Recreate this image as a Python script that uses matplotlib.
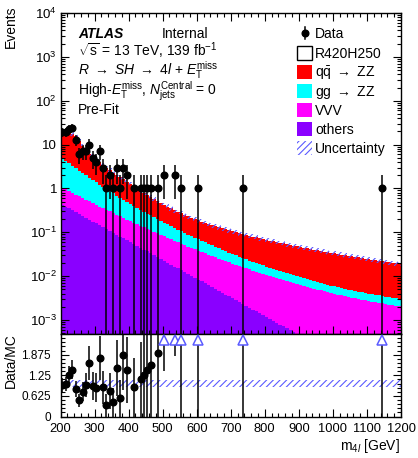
import numpy as np
import matplotlib
matplotlib.use('Agg')
import matplotlib.pyplot as plt
from matplotlib.patches import Rectangle
from matplotlib.lines import Line2D
from matplotlib.ticker import FixedLocator, FixedFormatter, MultipleLocator, LogLocator, FuncFormatter, NullFormatter

plt.rcParams['font.family'] = ['Liberation Sans', 'DejaVu Sans']
plt.rcParams['mathtext.fontset'] = 'custom'
plt.rcParams['mathtext.rm'] = 'Liberation Sans'
plt.rcParams['mathtext.it'] = 'Liberation Sans:italic'
plt.rcParams['mathtext.bf'] = 'Liberation Sans:bold'
plt.rcParams['hatch.linewidth'] = 0.8

# ---------------- data ----------------
bin_edges = np.arange(200, 1201, 10)

data = [19, 19, 23, 24, 13, 6, 7, 7, 10, 5,
        4, 7, 3, 1, 2, 1, 3, 1, 3, 2,
        0, 1, 0, 1, 1, 1, 1, 0, 1, 0,
        2, 0, 0, 2, 0, 1, 0, 0, 0, 0,
        1, 0, 0, 0, 0, 0, 0, 0, 0, 0,
        0, 0, 0, 1, 0, 0, 0, 0, 0, 0,
        0, 0, 0, 0, 0, 0, 0, 0, 0, 0,
        0, 0, 0, 0, 0, 0, 0, 0, 0, 0,
        0, 0, 0, 0, 0, 0, 0, 0, 0, 0,
        0, 0, 0, 0, 1, 0, 0, 0, 0, 0]

qqZZ = [15.08, 15.00, 14.53, 13.70, 12.60, 9.645, 7.049, 5.412, 4.443, 3.844,
        3.222, 2.727, 2.312, 1.981, 1.736, 1.529, 1.340, 1.182, 1.046, 0.9226,
        0.8127, 0.7174, 0.6371, 0.5624, 0.5039, 0.4472, 0.3974, 0.3549, 0.3202, 0.2883,
        0.2596, 0.2353, 0.2145, 0.1953, 0.1800, 0.1657, 0.1535, 0.1435, 0.1337, 0.1263,
        0.1191, 0.1125, 0.1065, 0.1009, 0.0960, 0.0917, 0.0870, 0.0831, 0.0801, 0.0766,
        0.0737, 0.0707, 0.0680, 0.0655, 0.0631, 0.0607, 0.0586, 0.0566, 0.0546, 0.0528,
        0.0510, 0.0494, 0.0477, 0.0462, 0.0447, 0.0433, 0.0419, 0.0406, 0.0393, 0.0381,
        0.0369, 0.0358, 0.0348, 0.0337, 0.0327, 0.0317, 0.0307, 0.0298, 0.0290, 0.0281,
        0.0274, 0.0265, 0.0257, 0.0250, 0.0243, 0.0236, 0.0230, 0.0224, 0.0217, 0.0211,
        0.0205, 0.0199, 0.0194, 0.0189, 0.0184, 0.0179, 0.0174, 0.0169, 0.0165, 0.0160]

ggZZ = [3.876, 3.349, 2.899, 2.512, 2.180, 1.894, 1.647, 1.435, 1.251, 1.093,
        0.955, 0.836, 0.733, 0.643, 0.565, 0.497, 0.438, 0.387, 0.3417, 0.3021,
        0.2676, 0.2372, 0.2106, 0.1873, 0.1667, 0.1485, 0.1325, 0.1184, 0.1059, 0.0949,
        0.0851, 0.0764, 0.0687, 0.0619, 0.0558, 0.0504, 0.0455, 0.0412, 0.0373, 0.0338,
        0.0307, 0.02797, 0.02547, 0.02322, 0.02120, 0.01938, 0.01774, 0.01626, 0.01492, 0.01371,
        0.01261, 0.01162, 0.01072, 0.00990, 0.00915, 0.00848, 0.00786, 0.00729, 0.00678, 0.00631,
        0.00588, 0.00548, 0.00512, 0.00479, 0.00449, 0.00421, 0.00395, 0.00372, 0.00350, 0.00330,
        0.00311, 0.00294, 0.00278, 0.00263, 0.00250, 0.00237, 0.00226, 0.00215, 0.00205, 0.00196,
        0.00187, 0.00179, 0.00172, 0.00165, 0.00158, 0.00152, 0.00146, 0.00141, 0.00136, 0.00132,
        0.00128, 0.00124, 0.00120, 0.00117, 0.00114, 0.00111, 0.00108, 0.00105, 0.00103, 0.00101]

VVV = [0.618, 0.566, 0.519, 0.476, 0.437, 0.401, 0.368, 0.339, 0.312, 0.287,
       0.264, 0.2434, 0.2245, 0.2072, 0.1912, 0.1767, 0.1633, 0.1511, 0.1399, 0.1295,
       0.1200, 0.1113, 0.1033, 0.0959, 0.0891, 0.0828, 0.0770, 0.0717, 0.0667, 0.0622,
       0.0580, 0.0541, 0.0505, 0.0472, 0.0441, 0.0412, 0.0386, 0.0361, 0.0338, 0.0317,
       0.0298, 0.0280, 0.0262, 0.0247, 0.0232, 0.0218, 0.0206, 0.0194, 0.0182, 0.0172,
       0.0162, 0.01534, 0.01450, 0.01371, 0.01297, 0.01228, 0.01163, 0.01103, 0.01046, 0.00993,
       0.00943, 0.00896, 0.00852, 0.00810, 0.00771, 0.00734, 0.00700, 0.00668, 0.00637, 0.00608,
       0.00581, 0.00555, 0.00531, 0.00509, 0.00487, 0.00467, 0.00448, 0.00430, 0.00412, 0.00396,
       0.00381, 0.00366, 0.00353, 0.00340, 0.00327, 0.00316, 0.00305, 0.00294, 0.00284, 0.00274,
       0.00265, 0.00257, 0.00249, 0.00241, 0.00234, 0.00227, 0.00220, 0.00214, 0.00208, 0.00202]

others = [0.426, 0.386, 0.350, 0.317, 0.287, 0.260, 0.236, 0.214, 0.194, 0.176,
          0.159, 0.144, 0.131, 0.119, 0.108, 0.0975, 0.0884, 0.0801, 0.0726, 0.0658,
          0.0597, 0.0541, 0.0490, 0.0444, 0.0403, 0.0365, 0.0331, 0.0300, 0.0272, 0.0246,
          0.0223, 0.0202, 0.0183, 0.0166, 0.0151, 0.0137, 0.0124, 0.0112, 0.0102, 0.00923,
          0.00836, 0.00758, 0.00687, 0.00623, 0.00564, 0.00512, 0.00464, 0.00420, 0.00381, 0.00345,
          0.00313, 0.00284, 0.00257, 0.00233, 0.00211, 0.00191, 0.00173, 0.00157, 0.00143, 0.00129,
          0.00117, 0.00106, 0.000962, 0.000872, 0.000790, 0.000716, 0.000649, 0.000588, 0.000533, 0.000483,
          0.000438, 0.000397, 0.000360, 0.000326, 0.000296, 0.000268, 0.000243, 0.000220, 0.000200, 0.000181,
          0.000164, 0.000149, 0.000135, 0.000122, 0.000111, 0.000100, 9.1e-5, 8.2e-5, 7.5e-5, 6.8e-5,
          6.1e-5, 5.5e-5, 5.0e-5, 4.6e-5, 4.1e-5, 3.7e-5, 3.4e-5, 3.1e-5, 2.8e-5, 2.5e-5]

syst_rel = 0.12

ratio_ticks = [0, 0.625, 1.25, 1.875, 2.5]
ratio_labels = ['0', '0.625', '1.25', '1.875', '']

# ---------------- style ----------------
C_QQ = '#ff0000'
C_GG = '#00ffff'
C_VVV = '#ff00ff'
C_OTH = '#8a00ff'
C_UNC = '#5a5aff'

W, H = 418, 458
fig = plt.figure(figsize=(W / 100, H / 100), dpi=100)

def fx(px):
    return px / W

def fy(py):
    return 1 - py / H

L, R = 60.5, 401.0
T_MAIN, B_MAIN, B_RAT = 13.0, 334.0, 416.5
ax = fig.add_axes([fx(L), fy(B_MAIN), (R - L) / W, (B_MAIN - T_MAIN) / H])
rax = fig.add_axes([fx(L), fy(B_RAT), (R - L) / W, (B_RAT - B_MAIN) / H])

d = np.array(data, dtype=float)
qq = np.array(qqZZ)
gg = np.array(ggZZ)
vv = np.array(VVV)
ot = np.array(others)
c1 = ot
c2 = c1 + vv
c3 = c2 + gg
c4 = c3 + qq
centers = 0.5 * (bin_edges[:-1] + bin_edges[1:])

# ---------------- main panel ----------------
ax.stairs(c1, bin_edges, baseline=1e-8, fill=True, color=C_OTH, lw=0)
ax.stairs(c2, bin_edges, baseline=c1, fill=True, color=C_VVV, lw=0)
ax.stairs(c3, bin_edges, baseline=c2, fill=True, color=C_GG, lw=0)
ax.stairs(c4, bin_edges, baseline=c3, fill=True, color=C_QQ, lw=0)
ax.stairs(c4 * (1 + syst_rel), bin_edges, baseline=c4 * (1 - syst_rel), fill=True,
          facecolor='none', edgecolor=C_UNC, hatch='/////', lw=0)

m = d > 0
err = np.sqrt(d[m])
lo = np.minimum(err, d[m] - 1e-9)
ax.errorbar(centers[m], d[m], yerr=[lo, err], fmt='o', color='black', ms=4.8,
            elinewidth=1.1, capsize=0, zorder=5)

ax.set_xlim(200, 1200)
ax.set_yscale('log')
ax.set_ylim(4.8e-4, 1e4)
ax.xaxis.set_major_locator(MultipleLocator(100))
ax.xaxis.set_minor_locator(MultipleLocator(20))
ax.yaxis.set_major_locator(LogLocator(base=10, numticks=20))
ax.yaxis.set_minor_locator(LogLocator(base=10, subs=np.arange(2, 10), numticks=20))
ax.yaxis.set_minor_formatter(NullFormatter())

def logfmt(v, pos):
    e = int(round(np.log10(v)))
    if e == 0:
        return '1'
    if e == 1:
        return '10'
    return r'$10^{%d}$' % e

ax.yaxis.set_major_formatter(FuncFormatter(logfmt))
ax.tick_params(which='both', direction='in', top=True, right=True, labelbottom=False,
               labelsize=9.5, pad=2.5, width=0.8)
ax.tick_params(which='major', length=6)
ax.tick_params(which='minor', length=3)
for s in ax.spines.values():
    s.set_linewidth(1.0)

# ---------------- ratio panel ----------------
tot = c4
rax.stairs(1 + syst_rel * np.ones_like(tot), bin_edges, baseline=1 - syst_rel * np.ones_like(tot),
           fill=True, facecolor='none', edgecolor=C_UNC, hatch='/////', lw=0)
r = d[m] / tot[m]
re = np.sqrt(d[m]) / tot[m]
rax.errorbar(centers[m], r, yerr=re, fmt='o', color='black', ms=4.8,
             elinewidth=1.1, capsize=0, zorder=5)
over = r > 2.5
rax.plot(centers[m][over], np.full(over.sum(), 2.33), linestyle='none', marker='^',
         ms=7, mfc='white', mec=C_UNC, mew=1.1, clip_on=False, zorder=6)

rax.set_xlim(200, 1200)
rax.set_ylim(0, 2.5)
rax.xaxis.set_major_locator(MultipleLocator(100))
rax.xaxis.set_minor_locator(MultipleLocator(20))
rax.yaxis.set_major_locator(FixedLocator(ratio_ticks))
rax.yaxis.set_major_formatter(FixedFormatter(ratio_labels))
rax.yaxis.set_minor_locator(MultipleLocator(0.125))
rax.tick_params(which='both', direction='in', top=False, right=True, width=0.8)
rax.tick_params(axis='x', labelsize=9.3, pad=4.5)
rax.tick_params(axis='y', labelsize=8.5, pad=7)
rax.tick_params(which='major', length=6)
rax.tick_params(which='minor', length=3)
for s in rax.spines.values():
    s.set_linewidth(1.0)

# ---------------- labels ----------------
fig.text(fx(11), fy(5), 'Events', rotation=90, ha='center', va='top', fontsize=10)
fig.text(fx(10.5), fy(361), 'Data/MC', rotation=90, ha='center', va='center', fontsize=10)
fig.text(fx(400), fy(450), r'm$_{4\mathit{l}}$ [GeV]', ha='right', va='baseline', fontsize=10)

fig.text(fx(78), fy(38), 'ATLAS', fontweight='bold', fontstyle='italic', fontsize=10, va='baseline')
fig.text(fx(162), fy(38), 'Internal', fontsize=10, va='baseline')
fig.text(fx(78), fy(56), r'$\sqrt{\mathrm{s}}$ = 13 TeV, 139 fb$^{-1}$', fontsize=10, va='baseline')
fig.text(fx(78), fy(75), r'$R$ $\rightarrow$ $SH$ $\rightarrow$ 4$l$ + $E_{\mathrm{T}}^{\mathrm{miss}}$',
         fontsize=10, va='baseline')
fig.text(fx(78), fy(95), r'High-$E_{\mathrm{T}}^{\mathrm{miss}}$, $N_{\mathrm{jets}}^{\mathrm{Central}}$ = 0',
         fontsize=10, va='baseline')
fig.text(fx(78), fy(114), 'Pre-Fit', fontsize=10, va='baseline')

# ---------------- legend ----------------
leg_rows = [33, 52.5, 72, 91, 110, 129, 147.5]
box_x0, box_x1 = 297, 311.5
txt_x = 315
bh = 14
entries = [('Data', 'data'), ('R420H250', 'sig'), (r'q$\bar{\mathrm{q}}$ $\rightarrow$ ZZ', C_QQ),
           (r'gg $\rightarrow$ ZZ', C_GG), ('VVV', C_VVV), ('others', C_OTH), ('Uncertainty', 'unc')]
for (label, kind), yc in zip(entries, leg_rows):
    if kind == 'data':
        fig.add_artist(Line2D([fx(304.5), fx(304.5)], [fy(yc - 6), fy(yc + 6)], color='black',
                              lw=1.1, transform=fig.transFigure))
        fig.add_artist(Line2D([fx(304.5)], [fy(yc)], marker='o', color='black', ms=4.8,
                              transform=fig.transFigure))
    elif kind == 'sig':
        fig.add_artist(Rectangle((fx(box_x0), fy(yc + bh / 2)), (box_x1 - box_x0) / W, bh / H,
                                 facecolor='white', edgecolor='black', lw=1.0,
                                 transform=fig.transFigure))
    elif kind == 'unc':
        fig.add_artist(Rectangle((fx(box_x0), fy(yc + bh / 2)), (box_x1 - box_x0) / W, bh / H,
                                 facecolor='none', edgecolor=C_UNC, lw=0, hatch='/////',
                                 transform=fig.transFigure))
    else:
        fig.add_artist(Rectangle((fx(box_x0), fy(yc + bh / 2)), (box_x1 - box_x0) / W, bh / H,
                                 facecolor=kind, edgecolor='none', lw=0,
                                 transform=fig.transFigure))
    fig.text(fx(txt_x), fy(yc + 5), label, fontsize=10, va='baseline', ha='left')

fig.savefig('out.png', dpi=100)
